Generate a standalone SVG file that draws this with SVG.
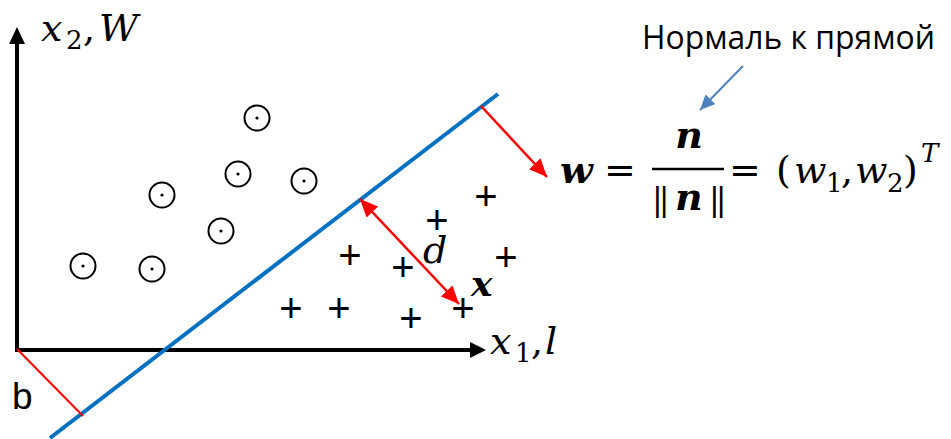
<svg xmlns="http://www.w3.org/2000/svg" width="951" height="439" viewBox="0 0 951 439">
<style>
.m{font-family:"DejaVu Serif","Liberation Serif",serif;fill:#000}
.i{font-style:italic}
.bi{font-style:italic;font-weight:bold}
.bar{font-size:32px;font-style:normal;font-weight:normal;letter-spacing:-4px}
.pt circle.o{fill:none;stroke:#000;stroke-width:2}
.pt circle.d{fill:#000}
.plus{font-family:"Liberation Sans",Arial,sans-serif;font-size:40px;fill:#000;text-anchor:middle}
.red{stroke:#FF0000;stroke-width:2.5;fill:none}
</style>
<defs>
<marker id="rh" markerUnits="userSpaceOnUse" markerWidth="20" markerHeight="16" refX="18" refY="8" orient="auto-start-reverse" viewBox="0 0 20 16">
<path d="M0,0 L18,8 L0,16 Z" fill="#FF0000"/>
</marker>
<marker id="bh" markerUnits="userSpaceOnUse" markerWidth="16" markerHeight="14" refX="15" refY="7" orient="auto" viewBox="0 0 16 14">
<path d="M0,0 L15,7 L0,14 Z" fill="#4F81BD"/>
</marker>
</defs>
<rect width="951" height="439" fill="#fff"/>
<g id="axes">
<path d="M17,43 V350 H471" fill="none" stroke="#000" stroke-width="4" stroke-linejoin="miter"/>
<path d="M17,27 L25,44 L9,44 Z" fill="#000"/>
<path d="M486,350 L470,342 L470,358 Z" fill="#000"/>
</g>
<g id="separator">
<line x1="50" y1="438" x2="498" y2="94" stroke="#0070C0" stroke-width="4"/>
</g>
<g id="class-circles" class="pt">
<g id="c1"><circle class="o" cx="257" cy="118" r="12.5"/><circle class="d" cx="257" cy="118" r="1.6"/></g>
<g id="c2"><circle class="o" cx="162" cy="195" r="12.5"/><circle class="d" cx="162" cy="195" r="1.6"/></g>
<g id="c3"><circle class="o" cx="238" cy="174" r="12.5"/><circle class="d" cx="238" cy="174" r="1.6"/></g>
<g id="c4"><circle class="o" cx="304" cy="181" r="12.5"/><circle class="d" cx="304" cy="181" r="1.6"/></g>
<g id="c5"><circle class="o" cx="221" cy="231" r="12.5"/><circle class="d" cx="221" cy="231" r="1.6"/></g>
<g id="c6"><circle class="o" cx="83" cy="266" r="12.5"/><circle class="d" cx="83" cy="266" r="1.6"/></g>
<g id="c7"><circle class="o" cx="152" cy="269" r="12.5"/><circle class="d" cx="152" cy="269" r="1.6"/></g>
</g>
<g id="class-plus">
<text class="plus" x="486" y="210">+</text>
<text class="plus" x="437" y="234">+</text>
<text class="plus" x="350" y="269">+</text>
<text class="plus" x="403" y="281">+</text>
<text class="plus" x="506" y="271">+</text>
<text class="plus" x="291" y="322">+</text>
<text class="plus" x="339" y="322">+</text>
<text class="plus" x="411" y="332">+</text>
<text class="plus" x="463" y="322">+</text>
</g>
<g id="connectors">
<line id="b-line" x1="17" y1="349" x2="83" y2="416" stroke="#FF0000" stroke-width="2"/>
<line id="d-arrow" class="red" x1="360" y1="199" x2="459" y2="304" marker-start="url(#rh)" marker-end="url(#rh)"/>
<line id="w-arrow" class="red" x1="481" y1="106" x2="547" y2="177" marker-end="url(#rh)"/>
<line id="normal-arrow" x1="743" y1="66" x2="700" y2="110" stroke="#4F81BD" stroke-width="2" marker-end="url(#bh)"/>
</g>
<g id="labels">
<text class="m" font-size="38" y="41"><tspan class="i" x="41">x</tspan><tspan font-size="26" x="66" y="49">2</tspan><tspan x="83" y="41">,</tspan><tspan class="i" x="99">W</tspan></text>
<text class="m" font-size="38" y="354"><tspan class="i" x="490">x</tspan><tspan font-size="26" x="515" y="362">1</tspan><tspan x="531" y="354">,</tspan><tspan class="i" x="545">l</tspan></text>
<text class="m i" font-size="38" x="423" y="263">d</text>
<text class="m bi" font-size="36" x="471" y="296">x</text>
<text x="12" y="409" font-family="'Liberation Sans',Arial,sans-serif" font-size="37">b</text>
<text x="642" y="49" font-family="'Open Sans','Liberation Sans',sans-serif" font-size="32" textLength="293" lengthAdjust="spacingAndGlyphs">Нормаль к прямой</text>
</g>
<g id="formula">
<text class="m bi" font-size="38" x="560" y="183">w</text>
<text class="m" font-size="38" x="604" y="183">=</text>
<text class="m bi" font-size="38" x="689" y="148" text-anchor="middle">n</text>
<line x1="652" y1="169" x2="724" y2="169" stroke="#000" stroke-width="2.5"/>
<text class="m" font-size="38" y="210"><tspan class="bar" x="652">||</tspan><tspan class="bi" x="675">n</tspan><tspan class="bar" x="709">||</tspan></text>
<text class="m" font-size="38" x="729" y="183">=</text>
<text class="m" font-size="38" y="183"><tspan x="776">(</tspan><tspan class="i" x="794">w</tspan><tspan font-size="26" x="826" y="192">1</tspan><tspan x="841" y="183">,</tspan><tspan class="i" x="855">w</tspan><tspan font-size="26" x="887" y="192">2</tspan><tspan x="903" y="183">)</tspan><tspan class="i" font-size="26" x="921" y="162">T</tspan></text>
</g>
</svg>
